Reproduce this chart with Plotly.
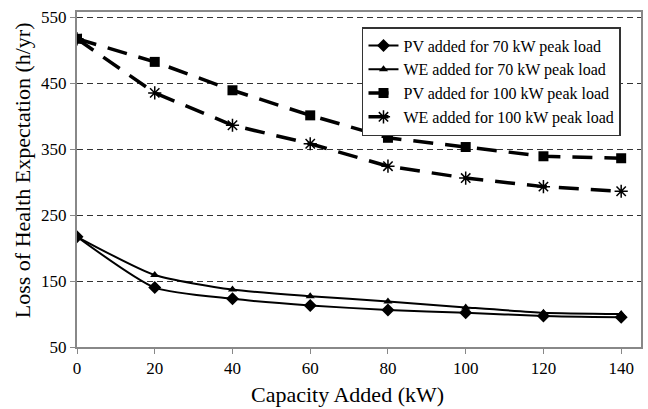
import plotly.graph_objects as go

capacity = [0, 20, 40, 60, 80, 100, 120, 140]
pv70 = [217, 140, 123, 113, 106, 102, 97, 95]
we70 = [217, 159, 137, 127, 119, 110, 102, 100]
pv100 = [517, 482, 439, 401, 367, 353, 339, 336]
we100 = [517, 435, 386, 358, 324, 306, 293, 286]

names = ["PV added for 70 kW peak load", "WE added for 70 kW peak load",
         "PV added for 100 kW peak load", "WE added for 100 kW peak load"]

fig = go.Figure()
fig.add_trace(go.Scatter(x=capacity, y=pv70, name=names[0], mode="lines+markers",
                         line=dict(color="black", width=2, shape="spline", smoothing=0.6),
                         marker=dict(symbol="diamond", size=10, color="black")))
fig.add_trace(go.Scatter(x=capacity, y=we70, name=names[1], mode="lines+markers",
                         line=dict(color="black", width=2, shape="spline", smoothing=0.6),
                         marker=dict(symbol="triangle-up", size=8, color="black")))
fig.add_trace(go.Scatter(x=capacity, y=pv100, name=names[2], mode="lines+markers",
                         line=dict(color="black", width=3.5, dash="20px,12px"),
                         marker=dict(symbol="square", size=10, color="black")))
fig.add_trace(go.Scatter(x=capacity, y=we100, name=names[3], mode="lines+markers",
                         line=dict(color="black", width=3.5, dash="20px,12px"),
                         marker=dict(symbol="asterisk-open", size=11, color="black",
                                     line=dict(color="black", width=1.5))))

font = "Liberation Serif"
pw, ph = 648 - 77 - 5, 409 - 12 - 62
fig.update_layout(
    width=648, height=409,
    margin=dict(l=77, r=5, t=12, b=62),
    plot_bgcolor="white", paper_bgcolor="white",
    font=dict(family=font, color="black", size=17),
    showlegend=True,
    legend=dict(x=(363 - 77) / pw, y=(347 - 27) / ph, xanchor="left", yanchor="top",
                bgcolor="white", bordercolor="#333", borderwidth=1.5,
                font=dict(size=16, family=font), tracegroupgap=0,
                itemwidth=30),
    xaxis=dict(range=[0, 145.1], tickvals=[0, 20, 40, 60, 80, 100, 120, 140],
               showgrid=False, zeroline=False, showline=True, linecolor="#888",
               linewidth=2, mirror=True, ticks="outside", ticklen=5, tickcolor="#888",
               tickfont=dict(size=17, family=font)),
    yaxis=dict(range=[50, 557.6], tickvals=[50, 150, 250, 350, 450, 550],
               showgrid=True, gridcolor="#333", griddash="6px,4px", gridwidth=1,
               zeroline=False, showline=True, linecolor="#888", linewidth=2, mirror=True,
               ticks="outside", ticklen=5, tickcolor="#888", tickfont=dict(size=17, family=font)),
    annotations=[
        dict(text="Capacity Added (kW)", x=(348 - 77) / pw, y=(347 - 394) / ph,
             xref="paper", yref="paper",
             showarrow=False, font=dict(size=22, family=font), xanchor="center", yanchor="middle"),
        dict(text="Loss of Health Expectation (h/yr)", x=(22 - 77) / pw, y=(347 - 170) / ph,
             xref="paper", yref="paper", textangle=-90,
             showarrow=False, font=dict(size=22, family=font), xanchor="center", yanchor="middle"),
    ],
)
fig.write_html("out.html")
